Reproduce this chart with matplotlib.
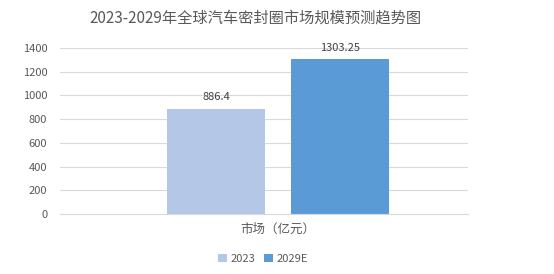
import matplotlib
matplotlib.use("Agg")
import matplotlib.pyplot as plt

plt.rcParams['font.family'] = ['Noto Sans CJK SC', 'DejaVu Sans']

categories = ["市场（亿元）"]
series_names = ["2023", "2029E"]
values_2023 = [886.4]
values_2029 = [1303.25]
colors = ["#B4C7E7", "#5B9BD5"]
text_color = "#595959"

fig = plt.figure(figsize=(5.54, 2.74), dpi=100)
ax = fig.add_axes([0.108, 0.219, 0.737, 0.606])

w = 0.48
off = 0.304
x = [0]
b1 = ax.bar([i - off for i in x], values_2023, width=w, color=colors[0], label=series_names[0], zorder=2)
b2 = ax.bar([i + off for i in x], values_2029, width=w, color=colors[1], label=series_names[1], zorder=2)

for bars, vals in ((b1, values_2023), (b2, values_2029)):
    for rect, v in zip(bars, vals):
        ax.text(rect.get_x() + rect.get_width() / 2, v + 55, f"{v:g}",
                ha="center", va="bottom", fontsize=8, color="#404040")

ax.set_xlim(-1.069, 0.931)
ax.set_ylim(0, 1400)
ax.set_yticks(range(0, 1401, 200))
ax.set_xticks(x)
ax.set_xticklabels(categories, fontsize=9, color=text_color)
ax.tick_params(axis="y", labelsize=8, colors=text_color, length=0, pad=9)
ax.tick_params(axis="x", length=0, pad=6)
ax.grid(axis="y", color="#D9D9D9", linewidth=0.8, zorder=0)
for s in ["top", "right", "left"]:
    ax.spines[s].set_visible(False)
ax.spines["bottom"].set_color("#D9D9D9")

fig.suptitle("2023-2029年全球汽车密封圈市场规模预测趋势图", fontsize=11, color=text_color,
             x=255 / 554, y=0.965)
fig.legend(loc="center", bbox_to_anchor=(263 / 554, 1 - 259 / 274), ncol=2, frameon=False,
           fontsize=8, handlelength=0.8, handleheight=0.8, handletextpad=0.3, columnspacing=0.8,
           labelcolor=text_color)

fig.savefig("out.png", dpi=100)
